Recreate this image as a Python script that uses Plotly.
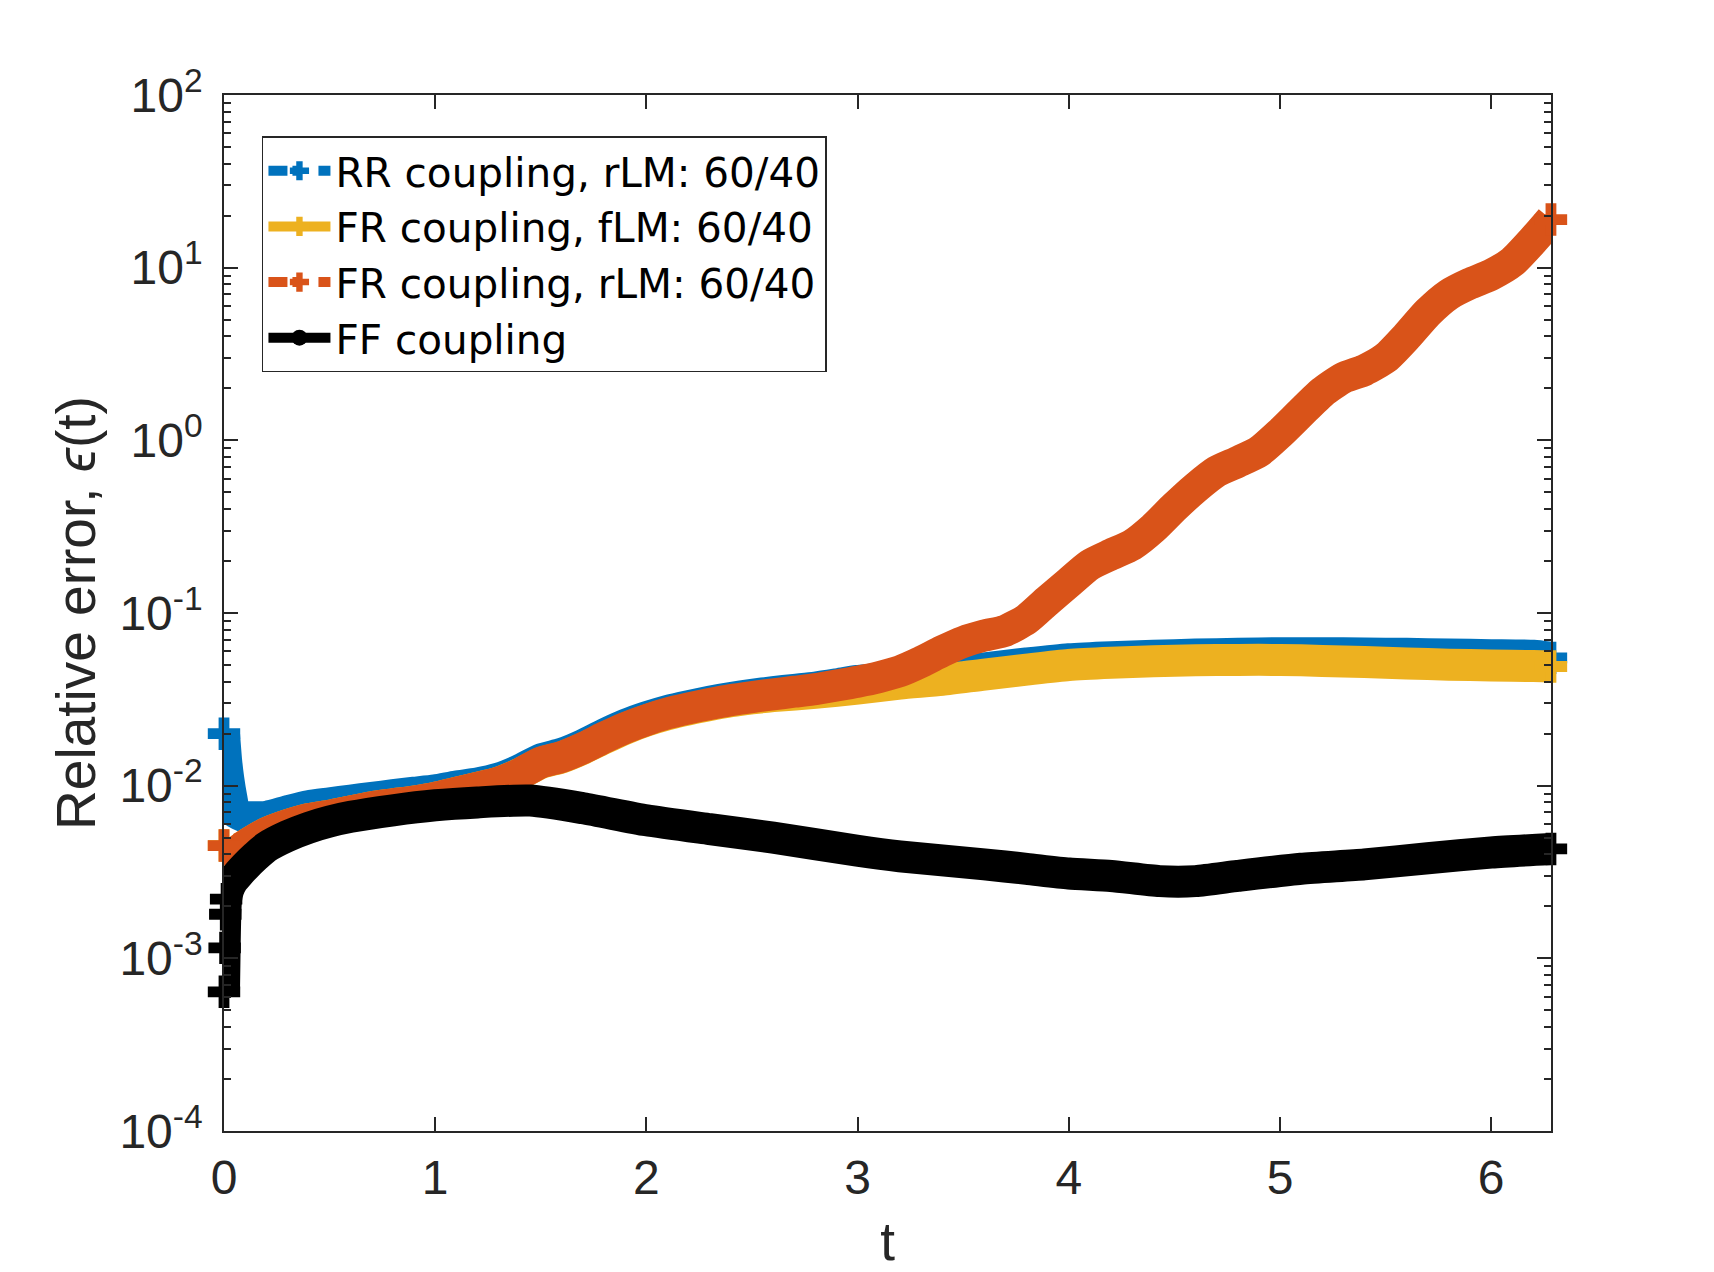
import plotly.graph_objects as go

# FR coupling, rLM (orange)
t_fr_r = [0, 0.05, 0.1, 0.2, 0.3, 0.4, 0.5, 0.6, 0.7, 0.8, 0.9, 1.0, 1.1, 1.2, 1.3, 1.4, 1.5, 1.6,
          1.7, 1.8, 1.9, 2.0, 2.1, 2.2, 2.3, 2.4, 2.5, 2.6, 2.7, 2.8, 2.9, 3.0, 3.1, 3.2, 3.3, 3.4,
          3.5, 3.6, 3.7, 3.8, 3.9, 4.0, 4.1, 4.2, 4.3, 4.4, 4.5, 4.6, 4.7, 4.8, 4.9, 5.0, 5.1, 5.2,
          5.3, 5.4, 5.5, 5.6, 5.7, 5.8, 5.9, 6.0, 6.1, 6.2, 6.283]
err_fr_r = [0.0045, 0.0041, 0.0045, 0.0053, 0.0059, 0.0064, 0.0067, 0.0071, 0.0075, 0.0078, 0.0081,
            0.0085, 0.0091, 0.0097, 0.0104, 0.0117, 0.0136, 0.0147, 0.0165, 0.0190, 0.0216, 0.0240,
            0.0262, 0.0280, 0.0297, 0.0313, 0.0326, 0.0338, 0.0350, 0.0362, 0.0380, 0.0400, 0.0425,
            0.0460, 0.052, 0.060, 0.068, 0.074, 0.079, 0.092, 0.118, 0.150, 0.190, 0.218, 0.248,
            0.31, 0.41, 0.53, 0.66, 0.75, 0.86, 1.1, 1.45, 1.9, 2.3, 2.55, 3.0, 4.0, 5.5, 7.0, 8.1,
            9.1, 10.8, 14.5, 19.0]

# RR coupling, rLM (blue)
t_rr = [0, 0.01, 0.02, 0.035, 0.05, 0.1, 0.2, 0.3, 0.4, 0.5, 0.6, 0.7, 0.8, 0.9, 1.0, 1.1, 1.2,
        1.3, 1.4, 1.5, 1.6, 1.7, 1.8, 1.9, 2.0, 2.1, 2.2, 2.3, 2.4, 2.5, 2.6, 2.7, 2.8, 2.9, 3.0,
        3.2, 3.4, 3.6, 3.8, 4.0, 4.2, 4.4, 4.6, 4.8, 5.0, 5.2, 5.4, 5.6, 5.8, 6.0, 6.2, 6.283]
err_rr = [0.020, 0.014, 0.011, 0.0085, 0.0071, 0.0066, 0.0066, 0.0071, 0.0076, 0.0079, 0.0082,
          0.0085, 0.0088, 0.0091, 0.0094, 0.0099, 0.0103, 0.0110, 0.0123, 0.0142, 0.0153, 0.0172,
          0.0198, 0.0225, 0.0249, 0.0271, 0.0289, 0.0306, 0.0322, 0.0336, 0.0348, 0.0359, 0.0370,
          0.0386, 0.0404, 0.0425, 0.0450, 0.0478, 0.0510, 0.0540, 0.0555, 0.0565, 0.0575, 0.0580,
          0.0585, 0.0585, 0.0583, 0.0580, 0.0575, 0.0570, 0.0565, 0.0550]

# FR coupling, fLM (yellow)
t_fr_f = [0, 0.05, 0.1, 0.2, 0.3, 0.4, 0.5, 0.6, 0.7, 0.8, 0.9, 1.0, 1.1, 1.2, 1.3, 1.4, 1.5, 1.6,
          1.7, 1.8, 1.9, 2.0, 2.1, 2.2, 2.3, 2.4, 2.5, 2.6, 2.8, 3.0, 3.2, 3.4, 3.6, 3.8, 4.0, 4.2,
          4.4, 4.6, 4.8, 5.0, 5.2, 5.4, 5.6, 5.8, 6.0, 6.2, 6.283]
err_fr_f = [0.0045, 0.0041, 0.0045, 0.0053, 0.0059, 0.0064, 0.0067, 0.0071, 0.0075, 0.0078, 0.0081,
            0.0085, 0.0091, 0.0097, 0.0104, 0.0117, 0.0135, 0.0146, 0.0164, 0.0188, 0.0214, 0.0238,
            0.0259, 0.0277, 0.0293, 0.0308, 0.0320, 0.0330, 0.0345, 0.0365, 0.0390, 0.0410, 0.0440,
            0.0470, 0.0500, 0.0515, 0.0525, 0.0532, 0.0535, 0.0535, 0.0528, 0.0520, 0.0510, 0.0502,
            0.0497, 0.0493, 0.0490]

# FF coupling (black)
t_ff = [0, 0.003, 0.006, 0.01, 0.02, 0.04, 0.07, 0.1, 0.15, 0.2, 0.3, 0.4, 0.5, 0.6, 0.8, 1.0, 1.2,
        1.45, 1.7, 2.0, 2.3, 2.6, 3.0, 3.2, 3.6, 3.8, 4.0, 4.2, 4.43, 4.6, 4.8, 5.1, 5.4, 5.7, 6.0,
        6.283]
err_ff = [0.00064, 0.00115, 0.0018, 0.0022, 0.0025, 0.0028, 0.0031, 0.0034, 0.0039, 0.0044, 0.0051,
          0.0057, 0.0062, 0.0066, 0.0072, 0.0077, 0.0080, 0.0082, 0.0074, 0.0063, 0.0056, 0.0050,
          0.0042, 0.0039, 0.0035, 0.0033, 0.0031, 0.0030, 0.0028, 0.0028, 0.0030, 0.0033, 0.0035,
          0.0038, 0.0041, 0.0043]

names = ["RR coupling, rLM: 60/40", "FR coupling, fLM: 60/40", "FR coupling, rLM: 60/40", "FF coupling"]
colors = ["#0072BD", "#EDB120", "#D95319", "#000000"]
legend_dash = ["19px,5px,6px,20px", "solid", "19px,5px,6px,20px", "solid"]
legend_symbol = ["cross", "cross", "cross", "circle"]
n_start_markers = [1, 1, 1, 4]   # how many leading points show their '+' marker

x_ticks = [0, 1, 2, 3, 4, 5, 6]
y_ticks = [1e-4, 1e-3, 1e-2, 1e-1, 1e0, 1e1, 1e2]
y_ticktext = ["10<sup>-4</sup>", "10<sup>-3</sup>", "10<sup>-2</sup>", "10<sup>-1</sup>",
              "10<sup>0</sup>", "10<sup>1</sup>", "10<sup>2</sup>"]
y_minor = [k * 10.0 ** e for e in range(-4, 2) for k in range(2, 10)]

series = [(t_rr, err_rr), (t_fr_f, err_fr_f), (t_fr_r, err_fr_r), (t_ff, err_ff)]

fig = go.Figure()
for (tt, ee), c, ns in zip(series, colors, n_start_markers):
    assert len(tt) == len(ee)
    sizes = [27 if (i < ns or i == len(tt) - 1) else 0 for i in range(len(tt))]
    fig.add_trace(go.Scatter(x=tt, y=ee, mode="lines+markers", showlegend=False,
                             cliponaxis=False,
                             line=dict(color=c, width=32, shape="spline", smoothing=0.6),
                             marker=dict(symbol="cross", size=sizes, color=c, opacity=1,
                                         line_width=0)))

# legend entries (matlab-like line samples)
for n, c, d, s in zip(names, colors, legend_dash, legend_symbol):
    fig.add_trace(go.Scatter(x=[None], y=[None], mode="lines+markers", name=n,
                             line=dict(color=c, width=10, dash=d),
                             marker=dict(symbol=s, size=16, color=c)))

axis_col = "#262626"
fig.update_layout(
    width=1706, height=1264,
    margin=dict(l=216, r=163, t=87, b=141),
    paper_bgcolor="white", plot_bgcolor="white",
    font=dict(family="Liberation Sans, Arial, sans-serif", size=48, color=axis_col),
    legend=dict(x=0.0286, y=0.96, xanchor="left", yanchor="top",
                bgcolor="white", bordercolor=axis_col, borderwidth=1.5,
                font=dict(family="DejaVu Sans, sans-serif", size=40.5, color="black"),
                tracegroupgap=0, itemwidth=62),
)
fig.update_xaxes(range=[0, 6.2832], tickvals=x_ticks, ticks="inside", ticklen=14, tickwidth=1.5,
                 tickcolor=axis_col, showline=True, linecolor=axis_col, linewidth=1.5,
                 mirror="allticks", showgrid=False, zeroline=False, ticklabelstandoff=4,
                 title=dict(text="t", font=dict(size=53), standoff=20))
fig.update_yaxes(type="log", range=[-4, 2], tickvals=y_ticks, ticktext=y_ticktext,
                 ticks="inside", ticklen=14, tickwidth=1.5, tickcolor=axis_col,
                 showline=True, linecolor=axis_col, linewidth=1.5, mirror="allticks",
                 showgrid=False, zeroline=False, ticklabelstandoff=10,
                 minor=dict(tickvals=y_minor, ticks="inside", ticklen=7, tickwidth=1.5,
                            tickcolor=axis_col, showgrid=False),
                 title=dict(text="Relative error, <i>ϵ</i>(t)", font=dict(size=55), standoff=6))

fig.write_html("out.html")
